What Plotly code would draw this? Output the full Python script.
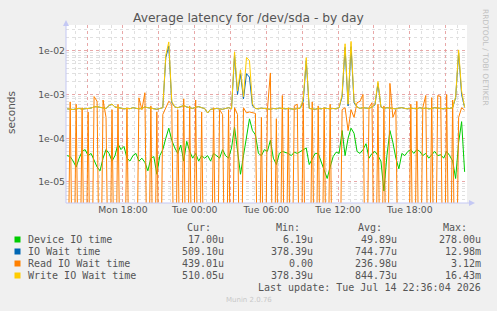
import pandas as pd
import numpy as np
import plotly.graph_objects as go

# ---- data (values in microseconds, 15-minute samples) ----
start_time = "2026-07-13 13:20"
step = "15min"

device_io_us = [
    40, 38, 30, 22, 35, 50, 55, 40, 45, 30, 22, 18, 35, 55, 45, 30, 40, 75, 55, 65,
    35, 30, 40, 45, 30, 35, 28, 18, 35, 38, 15, 40, 55, 100, 170, 90, 60, 45, 70, 30,
    85, 50, 35, 45, 30, 40, 35, 40, 30, 45, 40, 35, 55, 40, 35, 60, 180, 55, 15, 40,
    110, 278, 150, 120, 45, 40, 55, 50, 90, 35, 25, 45, 50, 48, 45, 40, 48, 45, 50, 55,
    60, 25, 35, 45, 45, 30, 18, 12, 22, 38, 48, 45, 150, 40, 100, 170, 130, 50, 45, 55,
    75, 35, 45, 50, 40, 30, 6.19, 40, 150, 80, 35, 20, 45, 40, 50, 55, 45, 55, 50, 40,
    45, 35, 42, 50, 40, 42, 35, 50, 40, 30, 12, 80, 240, 17,
]

io_wait_us = [
    470, 460, 455, 470, 480, 465, 470, 475, 490, 520, 530, 510, 500, 480, 560, 600, 520, 500, 490, 470,
    480, 475, 500, 490, 470, 480, 520, 500, 490, 470, 460, 480, 500, 7000, 12980, 650,
    520, 500, 540, 560, 520, 500, 480, 510, 530, 500, 480, 378.39, 460, 470, 480, 470, 460, 480, 500, 470,
    8000, 1000, 3000, 800, 3000, 2500, 550,
    480, 470, 490, 480, 470, 460, 480, 470, 490, 480, 470, 480, 470, 460, 480, 490, 700,
    6000,
    480, 470, 460, 480, 470, 490, 480, 470, 480, 470, 500, 900,
    12000, 550, 12500,
    650, 520, 480, 500, 490, 480, 520, 580,
    1800,
    520, 480, 500, 490, 480, 470, 490, 500, 480, 470, 490, 480, 470, 500, 480, 490, 470, 480, 500, 490,
    480, 470, 490, 480, 500, 850,
    9000, 1000, 509.10,
]

read_io_wait_us = [
    0, 680, 0, 600, 0, 500, 0, 400, 0, 900, 700, 0, 750, 300, 0, 450, 0, 600, 0, 0,
    500, 0, 0, 0, 840, 450, 1100, 0, 550, 0, 400, 0, 350, 500, 700, 600, 0, 450, 0, 800,
    0, 550, 0, 750, 0, 400, 0, 0, 0, 500, 0, 450, 350, 0, 450, 0, 500, 350, 0, 500,
    380, 400, 380, 370, 0, 300, 0, 450, 3120, 0, 280, 0, 950, 0, 500, 0, 550, 600, 0, 650,
    0, 0, 680, 0, 550, 0, 500, 0, 600, 0, 0, 0, 450, 500, 150, 450, 300, 650, 700, 1000,
    0, 500, 650, 0, 600, 0, 550, 0, 1800, 300, 450, 0, 0, 0, 0, 600, 0, 700, 0, 500,
    950, 0, 850, 0, 950, 900, 0, 1000, 0, 750, 0, 300, 500, 439.01,
]

write_io_wait_us = [
    470, 460, 455, 470, 480, 465, 470, 475, 490, 520, 530, 510, 500, 480, 560, 600, 520, 500, 490, 470,
    480, 475, 500, 490, 470, 480, 520, 500, 490, 470, 460, 480, 500, 8000, 16000, 700,
    520, 500, 540, 560, 520, 500, 480, 510, 530, 500, 480, 378.39, 460, 470, 480, 470, 460, 480, 500, 470,
    9500, 1200, 3700, 900, 7000, 6000, 600,
    480, 470, 490, 480, 470, 460, 480, 470, 490, 480, 470, 480, 470, 460, 480, 490, 800,
    7000,
    480, 470, 460, 480, 470, 490, 480, 470, 480, 470, 500, 1000,
    14500, 600, 16430,
    700, 520, 480, 500, 490, 480, 520, 600,
    2000,
    520, 480, 500, 490, 480, 470, 490, 500, 480, 470, 490, 480, 470, 500, 480, 490, 470, 480, 500, 490,
    480, 470, 490, 480, 500, 900,
    10500, 1200, 510.05,
]

series_names = ["Device IO time", "IO Wait time", "Read IO Wait time", "Write IO Wait time"]
series_colors = ["#00CC00", "#0066B3", "#FF8000", "#FFCC00"]
cur_vals = ["17.00u", "509.10u", "439.01u", "510.05u"]
min_vals = ["6.19u", "378.39u", "0.00", "378.39u"]
avg_vals = ["49.89u", "744.77u", "236.98u", "844.73u"]
max_vals = ["278.00u", "12.98m", "3.12m", "16.43m"]

x_tick_times = ["2026-07-13 15:00", "2026-07-13 18:00", "2026-07-13 21:00", "2026-07-14 00:00",
                "2026-07-14 03:00", "2026-07-14 06:00", "2026-07-14 09:00", "2026-07-14 12:00",
                "2026-07-14 15:00", "2026-07-14 18:00", "2026-07-14 21:00"]
x_tick_text = ["", "Mon 18:00", "", "Tue 00:00", "", "Tue 06:00", "", "Tue 12:00", "", "Tue 18:00", ""]
y_tick_vals = [1e-5, 1e-4, 1e-3, 1e-2]
y_tick_text = ["1e-05", "1e-04", "1e-03", "1e-02"]

# ---- layout geometry ----
W, H = 497, 311
L, R, T, B = 66, 467, 25, 203

def px(x):
    return (x - L) / (R - L)

def py(y):
    return (B - y) / (B - T)

times = pd.date_range(start_time, periods=len(device_io_us), freq=step)

fig = go.Figure()
all_series = [device_io_us, io_wait_us, read_io_wait_us, write_io_wait_us]
for name, col, vals in zip(series_names, series_colors, all_series):
    v = np.array(vals, dtype=float) * 1e-6
    v = np.where(v <= 0, 1e-9, v)  # zero drops to bottom of the log axis
    fig.add_trace(go.Scatter(x=times, y=v, mode="lines", name=name,
                             line=dict(color=col, width=1), showlegend=False,
                             hoverinfo="skip"))

fig.update_layout(
    width=W, height=H,
    margin=dict(l=L, r=W - R, t=T, b=H - B),
    paper_bgcolor="#F0F0F0",
    plot_bgcolor="#FFFFFF",
    font=dict(family="DejaVu Sans", size=9.3, color="#555555"),
    showlegend=False,
)

major_grid = "rgba(235,150,150,0.75)"
minor_grid = "#E0E0E0"
fig.update_xaxes(
    type="date",
    range=["2026-07-13 13:14", "2026-07-14 22:47"],
    tickmode="array", tickvals=x_tick_times, ticktext=x_tick_text,
    showgrid=True, gridcolor=major_grid, griddash="dot", gridwidth=1,
    minor=dict(dtick=3600000, showgrid=True, gridcolor=minor_grid, griddash="dot", gridwidth=1),
    showline=False, zeroline=False, ticks="", ticklen=0,
    tickfont=dict(family="DejaVu Sans", size=9.3, color="#555555"),
)
fig.update_yaxes(
    type="log",
    range=[np.log10(3.3e-6), np.log10(3.9e-2)],
    tickmode="array", tickvals=y_tick_vals, ticktext=y_tick_text,
    showgrid=True, gridcolor=major_grid, griddash="dot", gridwidth=1,
    minor=dict(dtick="D1", showgrid=True, gridcolor=minor_grid, griddash="dot", gridwidth=1),
    showline=False, zeroline=False, ticks="", ticklen=0,
    tickfont=dict(family="DejaVu Sans", size=9.3, color="#555555"),
)

shapes = []
axis_col = "#C4C8F4"
shapes.append(dict(type="line", xref="paper", yref="paper", x0=px(66), x1=px(66), y0=py(203), y1=py(24),
                   line=dict(color=axis_col, width=1)))
shapes.append(dict(type="line", xref="paper", yref="paper", x0=px(66), x1=px(470), y0=py(203), y1=py(203),
                   line=dict(color=axis_col, width=1)))
shapes.append(dict(type="path", xref="paper", yref="paper",
                   path=f"M {px(63)} {py(26)} L {px(69)} {py(26)} L {px(66)} {py(20)} Z",
                   fillcolor=axis_col, line=dict(color=axis_col, width=0)))
shapes.append(dict(type="path", xref="paper", yref="paper",
                   path=f"M {px(469)} {py(200)} L {px(469)} {py(206)} L {px(475)} {py(203)} Z",
                   fillcolor=axis_col, line=dict(color=axis_col, width=0)))

row_y = [239.5, 251.5, 263.5, 275.5]
for col, yy in zip(series_colors, row_y):
    shapes.append(dict(type="rect", xref="paper", yref="paper",
                       x0=px(14.5), x1=px(20.5), y0=py(yy - 3), y1=py(yy + 3),
                       fillcolor=col, line=dict(width=0)))

ann = []
def text(x, y, s, anchor="left", size=10, color="#555555", family="DejaVu Sans Mono", angle=0):
    ann.append(dict(x=px(x), y=py(y), xref="paper", yref="paper", text=s, showarrow=False,
                    xanchor=anchor, yanchor="middle", textangle=angle,
                    font=dict(family=family, size=size, color=color)))

text(248.5, 18, "Average latency for /dev/sda - by day", "center", 12.3, "#555555", "DejaVu Sans")
text(11, 113, "seconds", "center", 10.5, "#555555", "DejaVu Sans", -90)
text(486, 57, "RRDTOOL / TOBI OETIKER", "center", 7.5, "#C0C0C0", "DejaVu Sans", 90)

text(213, 227.5, "Cur:", "right")
text(302, 227.5, "Min:", "right")
text(384, 227.5, "Avg:", "right")
text(469, 227.5, "Max:", "right")
for i, yy in enumerate(row_y):
    text(26, yy, series_names[i], "left")
    text(225.5, yy, cur_vals[i], "right")
    text(315, yy, min_vals[i], "right")
    text(399, yy, avg_vals[i], "right")
    text(482.5, yy, max_vals[i], "right")
text(482.5, 287.5, "Last update: Tue Jul 14 22:36:04 2026", "right")
text(249, 300, "Munin 2.0.76", "center", 7, "#C8C8C8", "DejaVu Sans")

fig.update_layout(shapes=shapes, annotations=ann)
fig.write_html("out.html")
